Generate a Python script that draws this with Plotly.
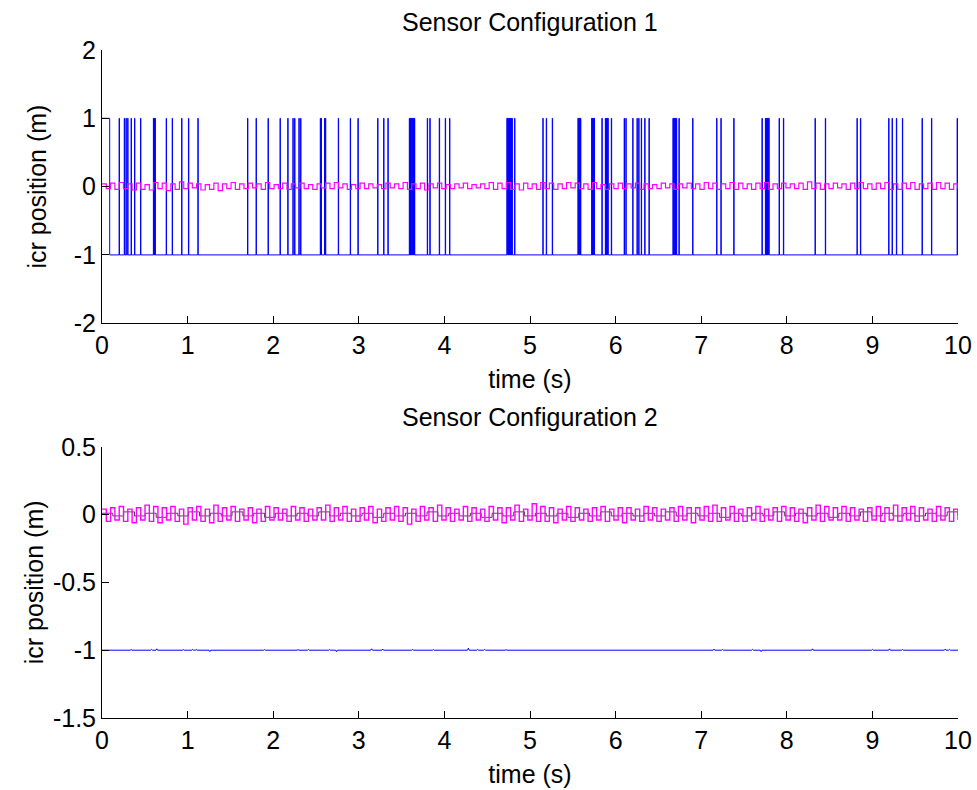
import numpy as np
import plotly.graph_objects as go
from plotly.subplots import make_subplots

# ---- data ----
# sensor configuration 1: blue icr estimate jumps between -1 and 1
blue1_init_high = 0.09
blue1_spikes = [0.20, 0.26, 0.28, 0.30, 0.34, 0.38, 0.45,
                0.60, 0.61, 0.62, 0.75, 0.82, 0.93, 1.01, 1.12,
                1.70, 1.80, 1.94, 2.08, 2.17, 2.23, 2.25, 2.30, 2.32,
                2.55, 2.56, 2.60, 2.61, 2.76, 2.90, 2.99, 3.22, 3.29, 3.34,
                3.59, 3.60, 3.61, 3.62, 3.63, 3.64, 3.65,
                3.80, 3.83, 3.94, 4.01, 4.06,
                4.73, 4.74, 4.75, 4.76, 4.77, 4.78, 4.79, 4.82,
                5.15, 5.19, 5.26, 5.56, 5.57, 5.58, 5.59,
                5.72, 5.73, 5.74, 5.75, 5.84, 5.88, 5.89, 5.90, 5.91, 5.95,
                6.10, 6.12, 6.20, 6.25, 6.27, 6.30, 6.34, 6.39,
                6.67, 6.68, 6.69, 6.70, 6.71, 6.74, 6.90, 7.18, 7.23, 7.38,
                7.71, 7.75, 7.76, 7.77, 7.78, 7.79, 7.91, 7.96, 8.33, 8.45,
                8.82, 8.86, 9.19, 9.23, 9.28, 9.35, 9.58, 9.69, 9.99]

magenta1 = [0.04, -0.03, 0.05, -0.04, 0.06, -0.03, 0.04, -0.05, 0.05, -0.04,
            0.03, -0.05, 0.06, -0.03, 0.05, -0.06, 0.04, -0.04, 0.07, -0.03,
            0.05, -0.02, 0.04, -0.05, 0.03, -0.04, 0.05, -0.06, 0.04, -0.03,
            0.06, -0.04, 0.04, -0.03, 0.05, -0.02, 0.04, -0.04, 0.06, -0.03,
            0.03, -0.03, 0.05, -0.04, 0.04, -0.02, 0.05, -0.03, 0.03, -0.04,
            0.04, -0.02, 0.05, -0.03, 0.06, -0.02, 0.04, -0.04, 0.03, -0.03,
            0.05, -0.03, 0.04, -0.02, 0.03, -0.03, 0.05, -0.02, 0.04, -0.03,
            0.06, -0.04, 0.04, -0.03, 0.05, -0.05, 0.04, -0.02, 0.05, -0.03,
            0.03, -0.03, 0.04, -0.02, 0.05, -0.03, 0.03, -0.02, 0.04, -0.03,
            0.06, -0.04, 0.05, -0.03, 0.06, -0.04, 0.04, -0.05, 0.05, -0.03,
            0.04, -0.04, 0.06, -0.03, 0.05, -0.04, 0.04, -0.03, 0.06, -0.02,
            0.05, -0.03, 0.04, -0.04, 0.06, -0.03, 0.03, -0.04, 0.04, -0.03,
            0.05, -0.03, 0.04, -0.02, 0.05, -0.04, 0.04, -0.03, 0.03, -0.03,
            0.05, -0.02, 0.04, -0.04, 0.04, -0.02, 0.05, -0.03, 0.04, -0.04,
            0.06, -0.03, 0.05, -0.04, 0.04, -0.03, 0.06, -0.04, 0.05, -0.03,
            0.04, -0.04, 0.05, -0.03, 0.06, -0.04, 0.04, -0.03, 0.05, -0.02,
            0.04, -0.03, 0.05, -0.04, 0.07, -0.03, 0.05, -0.04, 0.04, -0.03,
            0.05, -0.02, 0.04, -0.04, 0.05, -0.03, 0.06, -0.03, 0.04, -0.04,
            0.05, -0.03, 0.06, -0.04, 0.04, -0.04, 0.05, -0.03, 0.06, -0.04,
            0.04, -0.03, 0.05, -0.04, 0.06, -0.03, 0.05, -0.04, 0.04, -0.03]

# sensor configuration 2: blue sits at -1 with small blips
blue2_blips = [0.17, 0.34, 0.58, 0.64, 0.95, 1.06, 1.10, 1.26, 1.90, 2.29,
               2.41, 2.66, 2.74, 3.15, 3.28, 3.63, 3.87, 4.14, 4.28, 4.39,
               4.47, 4.72, 5.50, 7.15, 7.25, 7.60, 7.70, 8.30, 9.00, 9.20,
               9.35, 9.85, 9.90]
blue2_blip_size = [0.005, 0.006, 0.006, 0.01, 0.005, 0.006, 0.006, -0.01, 0.005, 0.006,
                   0.006, 0.006, -0.012, 0.01, 0.008, 0.006, 0.005, 0.005, 0.015, 0.006,
                   0.006, 0.005, 0.005, 0.008, 0.006, 0.006, -0.01, 0.01, 0.006, 0.01,
                   0.006, 0.008, 0.006]

magenta2 = [0.04, -0.05, 0.05, -0.04, 0.06, -0.05, 0.04, -0.06, 0.05, -0.04,
            0.07, -0.05, 0.06, -0.06, 0.05, -0.04, 0.06, -0.05, 0.04, -0.07,
            0.05, -0.04, 0.06, -0.05, 0.04, -0.06, 0.07, -0.05, 0.05, -0.04,
            0.06, -0.05, 0.04, -0.04, 0.05, -0.06, 0.04, -0.05, 0.06, -0.04,
            0.05, -0.04, 0.04, -0.05, 0.06, -0.04, 0.05, -0.05, 0.04, -0.04,
            0.05, -0.04, 0.07, -0.05, 0.05, -0.04, 0.06, -0.05, 0.04, -0.05,
            0.05, -0.04, 0.06, -0.06, 0.04, -0.05, 0.05, -0.04, 0.06, -0.05,
            0.05, -0.07, 0.04, -0.05, 0.06, -0.04, 0.05, -0.05, 0.07, -0.04,
            0.05, -0.05, 0.04, -0.04, 0.06, -0.05, 0.05, -0.04, 0.04, -0.05,
            0.06, -0.04, 0.05, -0.06, 0.05, -0.04, 0.07, -0.05, 0.04, -0.04,
            0.08, -0.05, 0.06, -0.05, 0.05, -0.06, 0.04, -0.04, 0.06, -0.05,
            0.05, -0.04, 0.04, -0.05, 0.05, -0.04, 0.06, -0.05, 0.04, -0.04,
            0.05, -0.06, 0.05, -0.04, 0.04, -0.05, 0.06, -0.04, 0.05, -0.05,
            0.04, -0.04, 0.05, -0.05, 0.06, -0.04, 0.05, -0.06, 0.05, -0.04,
            0.06, -0.05, 0.07, -0.05, 0.05, -0.04, 0.06, -0.05, 0.04, -0.05,
            0.05, -0.04, 0.06, -0.05, 0.04, -0.04, 0.05, -0.05, 0.06, -0.04,
            0.05, -0.05, 0.04, -0.06, 0.05, -0.04, 0.07, -0.05, 0.06, -0.04,
            0.05, -0.04, 0.06, -0.05, 0.05, -0.04, 0.04, -0.05, 0.05, -0.04,
            0.06, -0.05, 0.05, -0.04, 0.07, -0.05, 0.05, -0.04, 0.06, -0.05,
            0.05, -0.04, 0.04, -0.05, 0.06, -0.04, 0.05, -0.05, 0.04, -0.04]

black2 = [0.01, -0.01, 0.02, -0.01, 0.01, -0.02, 0.01, -0.01, 0.02, -0.01,
          0.01, -0.01, 0.02, -0.01, 0.01, -0.02, 0.01, -0.01, 0.01, -0.01,
          0.02, -0.01, 0.01, -0.01, 0.01, -0.02, 0.01, -0.01, 0.01, -0.01,
          0.02, -0.01, 0.01, -0.01, 0.01, -0.02, 0.01, -0.01, 0.02, -0.01,
          0.01, -0.01, 0.01, -0.02, 0.01, -0.01, 0.02, -0.01, 0.01, -0.01,
          0.01, -0.01, 0.02, -0.01, 0.01, -0.01, 0.01, -0.02, 0.01, -0.01,
          0.01, -0.01, 0.02, -0.01, 0.01, -0.01, 0.01, -0.02, 0.01, -0.01,
          0.02, -0.01, 0.01, -0.01, 0.01, -0.01, 0.01, -0.01, 0.02, -0.01]

y1_ticks = [-2, -1, 0, 1, 2]
y1_labels = ['-2', '-1', '0', '1', '2']
y2_ticks = [-1.5, -1, -0.5, 0, 0.5]
y2_labels = ['-1.5', '-1', '-0.5', '0', '0.5']
x_ticks = list(range(0, 11))

FONT = "Liberation Sans, Arial, sans-serif"
FS = 25
SPIKE_W = 0.004

def spike_series(init_high, spikes):
	xs, ys = [0, init_high, init_high], [1, 1, -1]
	for t in spikes:
		xs += [t, t, t + SPIKE_W, t + SPIKE_W]
		ys += [-1, 1, 1, -1]
	xs.append(10)
	ys.append(-1)
	return xs, ys

def blip_series(blips, sizes):
	xs, ys = [0], [-1]
	for t, d in zip(blips, sizes):
		xs += [t - 0.01, t, t + 0.01]
		ys += [-1, -1 + d, -1]
	xs.append(10)
	ys.append(-1)
	return xs, ys

fig = make_subplots(rows=2, cols=1)

# top
bx, by = spike_series(blue1_init_high, blue1_spikes)
fig.add_trace(go.Scatter(x=bx, y=by, mode='lines', line=dict(color='#0000ff', width=1)), row=1, col=1)
t1 = np.linspace(0, 10, len(magenta1))
fig.add_trace(go.Scatter(x=t1, y=magenta1, mode='lines', line=dict(color='#ff00ff', width=1.2, shape='hv')), row=1, col=1)

# bottom
t2b = np.linspace(0, 10, len(black2))
fig.add_trace(go.Scatter(x=t2b, y=black2, mode='lines', line=dict(color='black', width=0.7, shape='hv')), row=2, col=1)
t2 = np.linspace(0, 10, len(magenta2))
fig.add_trace(go.Scatter(x=t2, y=magenta2, mode='lines', line=dict(color='#ff00ff', width=1.4, shape='hv')), row=2, col=1)
cx, cy = blip_series(blue2_blips, blue2_blip_size)
fig.add_trace(go.Scatter(x=cx, y=cy, mode='lines', line=dict(color='#0000ff', width=1)), row=2, col=1)

axis_style = dict(showline=True, linecolor='black', linewidth=1, mirror=False,
                  ticks='inside', ticklen=7, tickcolor='black', tickwidth=1,
                  showgrid=False, zeroline=False, automargin=False,
                  tickfont=dict(family=FONT, size=FS, color='black'))

for r in (1, 2):
	fig.update_xaxes(range=[0, 10], tickvals=x_ticks, title_text='time (s)',
	                 title_font=dict(family=FONT, size=FS, color='black'),
	                 title_standoff=12, ticklabeloverflow='allow',
	                 row=r, col=1, **axis_style)

fig.update_yaxes(range=[-2, 2], tickvals=y1_ticks, ticktext=y1_labels,
                 title_text='icr position (m)', title_standoff=20,
                 title_font=dict(family=FONT, size=FS, color='black'),
                 row=1, col=1, **axis_style)
fig.update_yaxes(range=[-1.5, 0.5], tickvals=y2_ticks, ticktext=y2_labels,
                 title_text='icr position (m)', title_standoff=2,
                 title_font=dict(family=FONT, size=FS, color='black'),
                 row=2, col=1, **axis_style)

fig.update_layout(
	width=977, height=790,
	margin=dict(l=102, r=19, t=50, b=72),
	paper_bgcolor='white', plot_bgcolor='white',
	showlegend=False,
	xaxis=dict(domain=[0, 1]), yaxis=dict(domain=[0.591, 1.0]),
	xaxis2=dict(domain=[0, 1]), yaxis2=dict(domain=[0.0, 0.406]),
	annotations=[
		dict(text='Sensor Configuration 1', x=0.5, y=1.042, xref='paper', yref='paper',
		     showarrow=False, yanchor='middle', font=dict(family=FONT, size=FS, color='black')),
		dict(text='Sensor Configuration 2', x=0.5, y=0.4506, xref='paper', yref='paper',
		     showarrow=False, yanchor='middle', font=dict(family=FONT, size=FS, color='black')),
	],
)

# drop the default page margin so the figure fills the window exactly
fig.write_html("out.html", config={'displayModeBar': False},
               post_script="document.body.style.margin='0';document.body.style.overflow='hidden';")
